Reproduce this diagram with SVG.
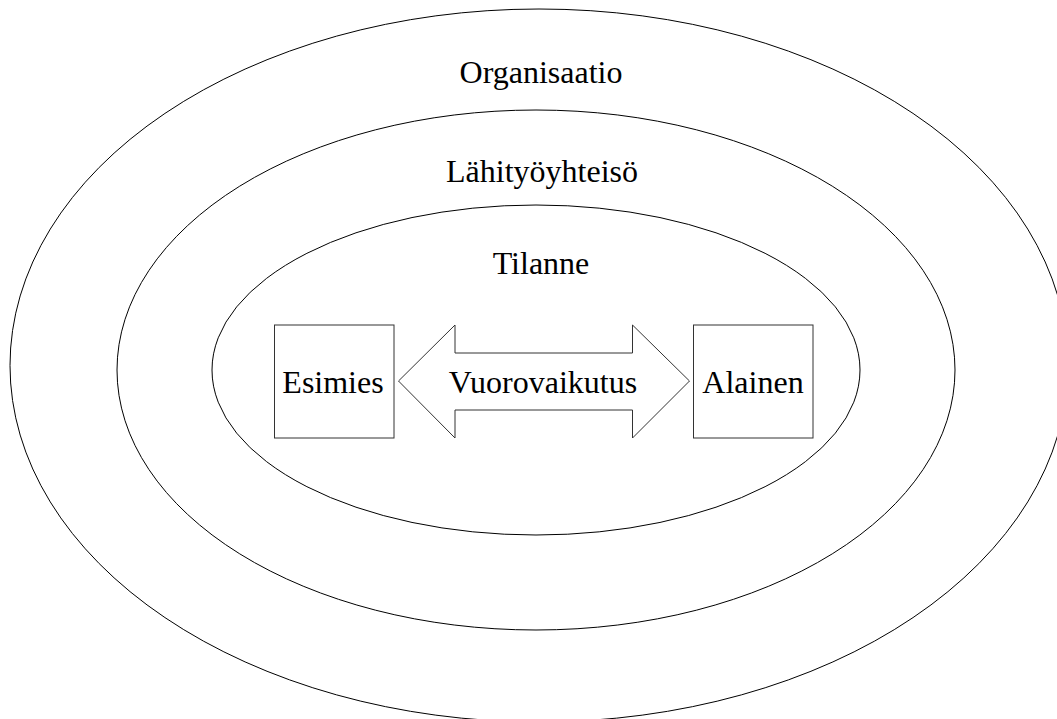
<svg xmlns="http://www.w3.org/2000/svg" width="1057" height="719" viewBox="0 0 1057 719">
<style>
.shape{fill:none;stroke:#000;stroke-width:1}
.box{fill:#fff;stroke:#333;stroke-width:1}
.lbl{font-family:"Liberation Serif","Times New Roman",serif;font-size:32px;fill:#000;text-anchor:middle}
</style>
<rect width="1057" height="719" fill="#fff"/>
<g id="organisaatio">
<ellipse class="shape" cx="539" cy="365.5" rx="529" ry="356.5"/>
<text class="lbl" x="541" y="83">Organisaatio</text>
</g>
<g id="lahityoyhteiso">
<ellipse class="shape" cx="536" cy="370" rx="419" ry="260"/>
<text class="lbl" x="542" y="182">Lähityöyhteisö</text>
</g>
<g id="tilanne">
<ellipse class="shape" cx="536" cy="370" rx="324" ry="165"/>
<text class="lbl" x="541" y="274">Tilanne</text>
</g>
<g id="esimies">
<rect class="box" x="274.5" y="325" width="119.5" height="113"/>
<text class="lbl" x="333" y="393">Esimies</text>
</g>
<g id="alainen">
<rect class="box" x="693.5" y="325" width="119.5" height="113"/>
<text class="lbl" x="753" y="393">Alainen</text>
</g>
<g id="connectors">
<g id="vuorovaikutus">
<polygon class="box" points="398.5,381 455,325 455,353 632.5,353 632.5,325 689.5,381 632.5,438 632.5,410 455,410 455,438"/>
<text class="lbl" x="543" y="393">Vuorovaikutus</text>
</g>
</g>
</svg>
